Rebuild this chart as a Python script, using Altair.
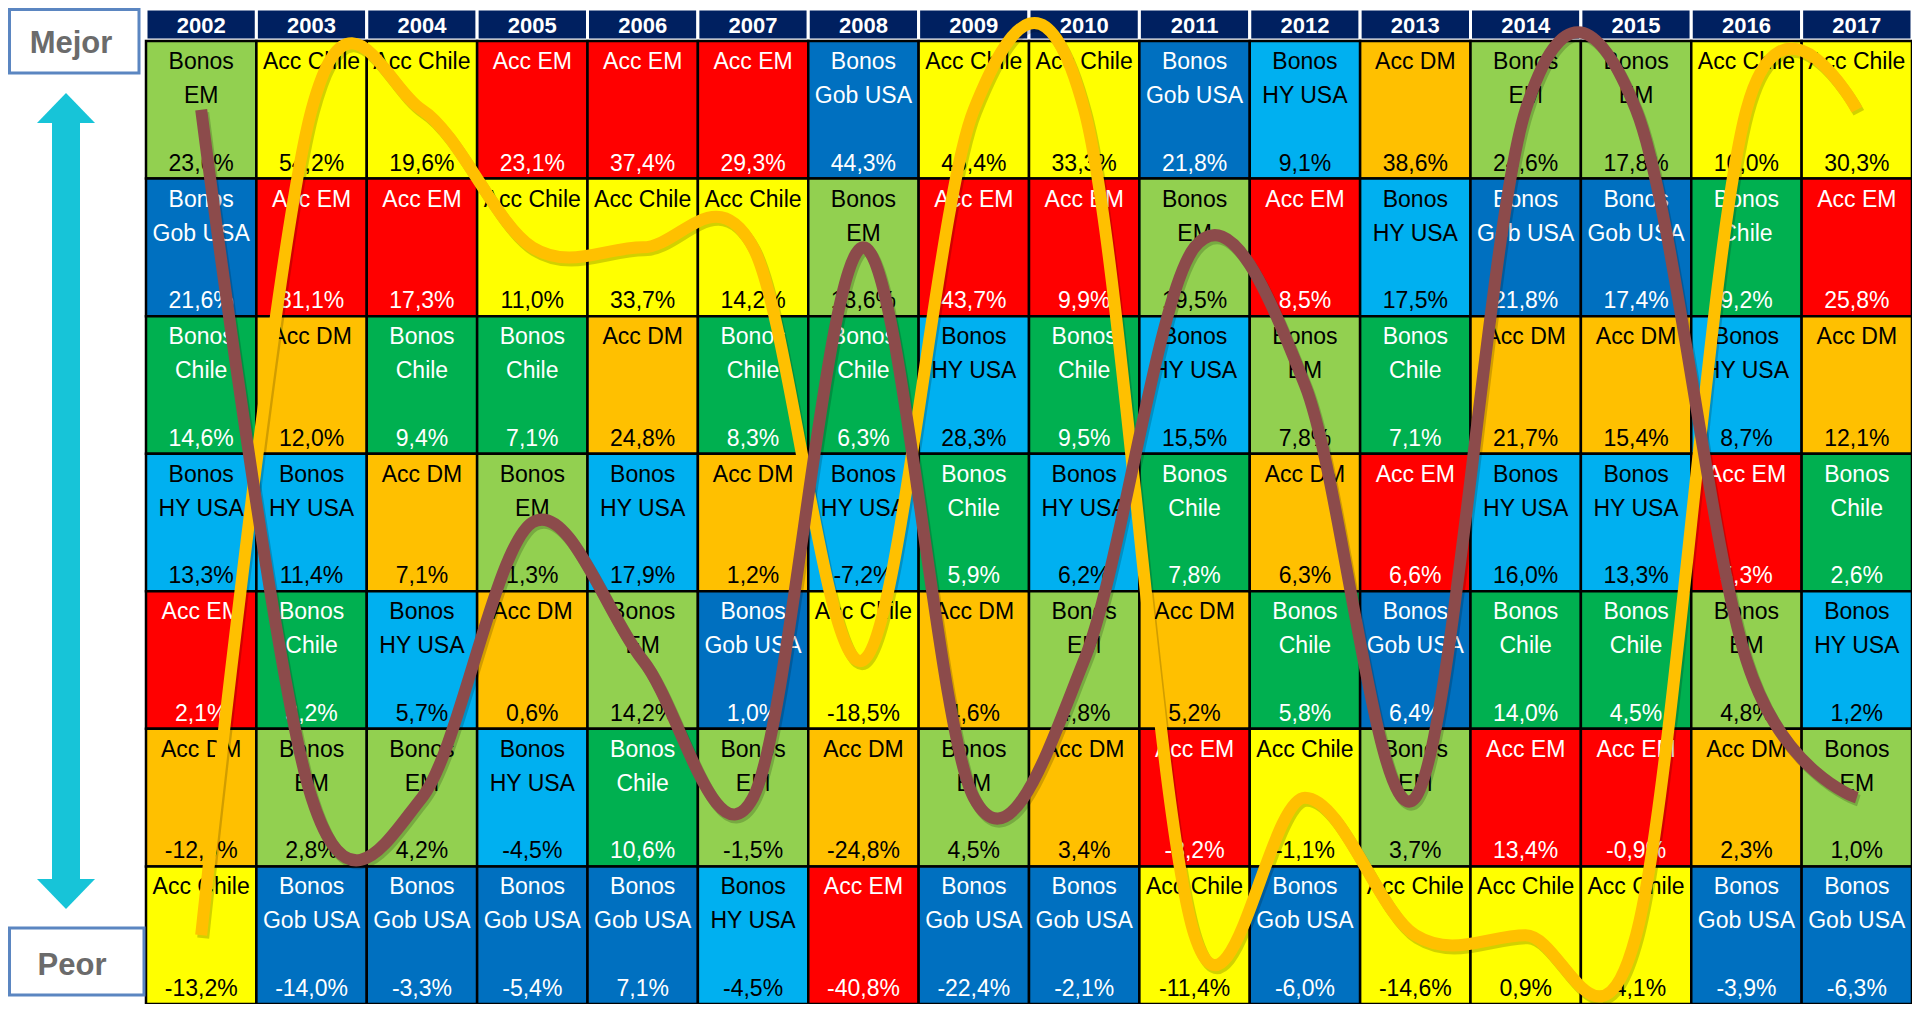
import altair as alt
import pandas as pd

# ---------------- data ----------------
years = list(range(2002, 2018))

# asset classes ordered from best (row 1) to worst (row 7) for each year
rank_2002 = ["Bonos EM", "Bonos Gob USA", "Bonos Chile", "Bonos HY USA", "Acc EM", "Acc DM", "Acc Chile"]
rank_2003 = ["Acc Chile", "Acc EM", "Acc DM", "Bonos HY USA", "Bonos Chile", "Bonos EM", "Bonos Gob USA"]
rank_2004 = ["Acc Chile", "Acc EM", "Bonos Chile", "Acc DM", "Bonos HY USA", "Bonos EM", "Bonos Gob USA"]
rank_2005 = ["Acc EM", "Acc Chile", "Bonos Chile", "Bonos EM", "Acc DM", "Bonos HY USA", "Bonos Gob USA"]
rank_2006 = ["Acc EM", "Acc Chile", "Acc DM", "Bonos HY USA", "Bonos EM", "Bonos Chile", "Bonos Gob USA"]
rank_2007 = ["Acc EM", "Acc Chile", "Bonos Chile", "Acc DM", "Bonos Gob USA", "Bonos EM", "Bonos HY USA"]
rank_2008 = ["Bonos Gob USA", "Bonos EM", "Bonos Chile", "Bonos HY USA", "Acc Chile", "Acc DM", "Acc EM"]
rank_2009 = ["Acc Chile", "Acc EM", "Bonos HY USA", "Bonos Chile", "Acc DM", "Bonos EM", "Bonos Gob USA"]
rank_2010 = ["Acc Chile", "Acc EM", "Bonos Chile", "Bonos HY USA", "Bonos EM", "Acc DM", "Bonos Gob USA"]
rank_2011 = ["Bonos Gob USA", "Bonos EM", "Bonos HY USA", "Bonos Chile", "Acc DM", "Acc EM", "Acc Chile"]
rank_2012 = ["Bonos HY USA", "Acc EM", "Bonos EM", "Acc DM", "Bonos Chile", "Acc Chile", "Bonos Gob USA"]
rank_2013 = ["Acc DM", "Bonos HY USA", "Bonos Chile", "Acc EM", "Bonos Gob USA", "Bonos EM", "Acc Chile"]
rank_2014 = ["Bonos EM", "Bonos Gob USA", "Acc DM", "Bonos HY USA", "Bonos Chile", "Acc EM", "Acc Chile"]
rank_2015 = ["Bonos EM", "Bonos Gob USA", "Acc DM", "Bonos HY USA", "Bonos Chile", "Acc EM", "Acc Chile"]
rank_2016 = ["Acc Chile", "Bonos Chile", "Bonos HY USA", "Acc EM", "Bonos EM", "Acc DM", "Bonos Gob USA"]
rank_2017 = ["Acc Chile", "Acc EM", "Acc DM", "Bonos Chile", "Bonos HY USA", "Bonos EM", "Bonos Gob USA"]

ret_2002 = [23.6, 21.6, 14.6, 13.3, 2.1, -12.6, -13.2]
ret_2003 = [54.2, 31.1, 12.0, 11.4, 3.2, 2.8, -14.0]
ret_2004 = [19.6, 17.3, 9.4, 7.1, 5.7, 4.2, -3.3]
ret_2005 = [23.1, 11.0, 7.1, 1.3, 0.6, -4.5, -5.4]
ret_2006 = [37.4, 33.7, 24.8, 17.9, 14.2, 10.6, 7.1]
ret_2007 = [29.3, 14.2, 8.3, 1.2, 1.0, -1.5, -4.5]
ret_2008 = [44.3, 13.6, 6.3, -7.2, -18.5, -24.8, -40.8]
ret_2009 = [46.4, 43.7, 28.3, 5.9, 4.6, 4.5, -22.4]
ret_2010 = [33.3, 9.9, 9.5, 6.2, 4.8, 3.4, -2.1]
ret_2011 = [21.8, 19.5, 15.5, 7.8, 5.2, -8.2, -11.4]
ret_2012 = [9.1, 8.5, 7.8, 6.3, 5.8, -1.1, -6.0]
ret_2013 = [38.6, 17.5, 7.1, 6.6, 6.4, 3.7, -14.6]
ret_2014 = [24.6, 21.8, 21.7, 16.0, 14.0, 13.4, 0.9]
ret_2015 = [17.8, 17.4, 15.4, 13.3, 4.5, -0.9, -4.1]
ret_2016 = [10.0, 9.2, 8.7, 5.3, 4.8, 2.3, -3.9]
ret_2017 = [30.3, 25.8, 12.1, 2.6, 1.2, 1.0, -6.3]

rankings = [rank_2002, rank_2003, rank_2004, rank_2005, rank_2006, rank_2007, rank_2008, rank_2009,
            rank_2010, rank_2011, rank_2012, rank_2013, rank_2014, rank_2015, rank_2016, rank_2017]
returns = [ret_2002, ret_2003, ret_2004, ret_2005, ret_2006, ret_2007, ret_2008, ret_2009,
           ret_2010, ret_2011, ret_2012, ret_2013, ret_2014, ret_2015, ret_2016, ret_2017]

assets = ["Bonos EM", "Acc Chile", "Acc EM", "Bonos Gob USA", "Bonos Chile", "Acc DM", "Bonos HY USA"]
asset_labels = ["Bonos\nEM", "Acc Chile", "Acc EM", "Bonos\nGob USA", "Bonos\nChile", "Acc DM", "Bonos\nHY USA"]
asset_fill = ["#92D050", "#FFFF00", "#FF0000", "#0070C0", "#00B050", "#FFC000", "#00B0F0"]
asset_text = ["#000000", "#000000", "#FFFFFF", "#FFFFFF", "#FFFFFF", "#000000", "#000000"]

line_series = ["Acc Chile", "Bonos EM"]
line_colors = ["#FFC000", "#8C4B4B"]

# ---------------- tables ----------------
rows = []
for y, order, rets in zip(years, rankings, returns):
    for r, (a, v) in enumerate(zip(order, rets), start=1):
        i = assets.index(a)
        rows.append({
            "year": y, "x0": y - 0.5, "x1": y + 0.5,
            "rank": r, "y0": r - 0.5, "y1": r + 0.5,
            "asset": a, "label": asset_labels[i],
            "pct": f"{v:.1f}".replace(".", ",") + "%",
            "fill": asset_fill[i], "tcolor": asset_text[i],
        })
cells_df = pd.DataFrame(rows)

hdr_df = pd.DataFrame({"year": years, "x0": [y - 0.5 for y in years], "x1": [y + 0.5 for y in years],
                       "ylabel": [str(y) for y in years]})

line_rows = []
for s, c in zip(line_series, line_colors):
    for y, order in zip(years, rankings):
        line_rows.append({"year": y, "rank": order.index(s) + 1, "series": s, "color": c})
line_df = pd.DataFrame(line_rows)

# ---------------- layout ----------------
W, H = 1904, 996
LEFT, TOP = 138, 33
cw = (W - LEFT) / 16
rh = (H - TOP) / 7
xs = alt.Scale(domain=[2001.5 - LEFT / cw, 2017.5], nice=False, zero=False)
ys = alt.Scale(domain=[0.5 - TOP / rh, 7.5], nice=False, zero=False, reverse=True)
FONT = "Liberation Sans"

one = pd.DataFrame({"k": [0]})

header = alt.Chart(hdr_df).mark_rect(fill="#002060", stroke="white", strokeWidth=3).encode(
    x=alt.X("x0:Q", scale=xs, axis=None), x2="x1:Q",
    y=alt.value(1), y2=alt.value(32))

header_text = alt.Chart(hdr_df).mark_text(font=FONT, fontSize=22, fontWeight="bold", color="white",
                                          baseline="alphabetic", align="center").encode(
    x=alt.X("year:Q", scale=xs, axis=None), y=alt.value(25), text="ylabel:N")

cells = alt.Chart(cells_df).mark_rect(stroke="black", strokeWidth=2.5).encode(
    x=alt.X("x0:Q", scale=xs, axis=None), x2="x1:Q",
    y=alt.Y("y0:Q", scale=ys, axis=None), y2="y1:Q",
    fill=alt.Fill("fill:N", scale=None))

names = alt.Chart(cells_df).mark_text(font=FONT, fontSize=23, lineBreak="\n", lineHeight=34,
                                      baseline="alphabetic", align="center", dy=28).encode(
    x=alt.X("year:Q", scale=xs, axis=None), y=alt.Y("y0:Q", scale=ys, axis=None),
    text="label:N", color=alt.Color("tcolor:N", scale=None))

pcts = alt.Chart(cells_df).mark_text(font=FONT, fontSize=23, baseline="alphabetic", align="center", dy=-8).encode(
    x=alt.X("year:Q", scale=xs, axis=None), y=alt.Y("y1:Q", scale=ys, axis=None),
    text="pct:N", color=alt.Color("tcolor:N", scale=None))

shadow = alt.Chart(line_df).mark_line(interpolate="cardinal", strokeWidth=12, color="black",
                                      opacity=0.18, xOffset=2, yOffset=3, strokeCap="butt").encode(
    x=alt.X("year:Q", scale=xs, axis=None), y=alt.Y("rank:Q", scale=ys, axis=None),
    detail="series:N")

orange = alt.Chart(line_df).transform_filter(alt.datum.series == "Acc Chile").mark_line(
    interpolate="cardinal", strokeWidth=12, strokeCap="butt").encode(
    x=alt.X("year:Q", scale=xs, axis=None), y=alt.Y("rank:Q", scale=ys, axis=None),
    color=alt.Color("color:N", scale=None))

brown = alt.Chart(line_df).transform_filter(alt.datum.series == "Bonos EM").mark_line(
    interpolate="cardinal", strokeWidth=12, strokeCap="butt").encode(
    x=alt.X("year:Q", scale=xs, axis=None), y=alt.Y("rank:Q", scale=ys, axis=None),
    color=alt.Color("color:N", scale=None))

# left side: "Mejor" / "Peor" boxes and cyan double arrow (pixel positions)
BOX = "#5B86C1"
mejor_box = alt.Chart(one).mark_rect(fill="white", stroke=BOX, strokeWidth=3).encode(
    x=alt.value(1.5), x2=alt.value(131), y=alt.value(1.5), y2=alt.value(65))
mejor_txt = alt.Chart(one).mark_text(font=FONT, fontSize=31, fontWeight="bold", color="#6B6B6B",
                                     align="center", baseline="alphabetic").encode(
    x=alt.value(63), y=alt.value(45), text=alt.value("Mejor"))

peor_box = alt.Chart(one).mark_rect(fill="white", stroke=BOX, strokeWidth=3).encode(
    x=alt.value(1.5), x2=alt.value(136), y=alt.value(920), y2=alt.value(987))
peor_txt = alt.Chart(one).mark_text(font=FONT, fontSize=31, fontWeight="bold", color="#6B6B6B",
                                    align="center", baseline="alphabetic").encode(
    x=alt.value(64), y=alt.value(967), text=alt.value("Peor"))

CYAN = "#17C4D8"
tip_top, tip_bot = 85, 901
shaft = alt.Chart(one).mark_rect(fill=CYAN).encode(
    x=alt.value(44), x2=alt.value(72), y=alt.value(tip_top + 28), y2=alt.value(tip_bot - 28))
head_up = alt.Chart(one).mark_point(shape="M-1,0.52L0,-0.52L1,0.52Z", size=3364, filled=True,
                                    fill=CYAN, strokeWidth=0, opacity=1).encode(
    x=alt.value(58), y=alt.value(tip_top + 15))
head_down = alt.Chart(one).mark_point(shape="M-1,-0.52L0,0.52L1,-0.52Z", size=3364, filled=True,
                                      fill=CYAN, strokeWidth=0, opacity=1).encode(
    x=alt.value(58), y=alt.value(tip_bot - 15))

chart = alt.layer(
    header, cells, header_text, names, pcts, shadow, orange, brown,
    mejor_box, mejor_txt, peor_box, peor_txt, shaft, head_up, head_down
).properties(
    width=W, height=H, padding=0, autosize=alt.AutoSizeParams(type="none"), background="white"
).configure_view(stroke=None)

chart.save("out.html", embed_options={"renderer": "svg", "actions": False})
